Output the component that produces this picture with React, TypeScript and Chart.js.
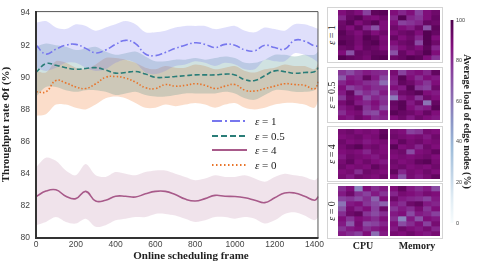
import React, { useEffect, useRef } from "react";
import { Chart, registerables } from "chart.js";
Chart.register(...registerables);

// ---------------- data ----------------
const FRAMES = [0, 50, 100, 150, 200, 250, 300, 350, 400, 450, 500, 550, 600, 650, 700, 750, 800, 850, 900, 950, 1000, 1050, 1100, 1150, 1200, 1250, 1300, 1350, 1400, 1420];
const X_TICKS = [0, 200, 400, 600, 800, 1000, 1200, 1400];
const Y_TICKS = [80, 82, 84, 86, 88, 90, 92, 94];
const CB_TICKS = [0, 20, 40, 60, 80, 100];

const EPS1_MEAN = [92.0, 91.45, 91.75, 92.0, 92.05, 91.8, 91.52, 91.7, 92.05, 92.3, 92.1, 91.45, 91.35, 91.55, 91.8, 92.0, 92.15, 92.05, 91.85, 92.05, 92.0, 91.7, 91.65, 92.0, 91.85, 91.75, 92.3, 92.25, 91.95, 91.95];
const EPS1_UPPER = [93.4, 93.5, 93.1, 93.0, 93.3, 93.2, 92.9, 93.1, 93.3, 93.5, 93.3, 92.8, 92.8, 92.9, 93.1, 93.2, 93.2, 93.2, 93.0, 93.1, 93.2, 92.9, 92.8, 93.1, 93.0, 92.9, 93.3, 93.3, 93.1, 93.0];
const EPS1_LOWER = [90.6, 90.4, 90.6, 90.9, 90.9, 90.6, 90.4, 90.5, 90.9, 91.1, 90.9, 90.3, 90.2, 90.4, 90.7, 90.8, 91.0, 90.9, 90.7, 90.9, 90.8, 90.5, 90.5, 91.1, 91.0, 91.0, 91.5, 91.4, 91.1, 90.9];

const EPS05_MEAN = [90.3, 90.85, 90.75, 90.6, 90.5, 90.55, 90.6, 90.45, 90.26, 90.3, 90.36, 90.2, 90.0, 90.0, 90.05, 90.1, 90.15, 90.15, 90.15, 90.2, 90.15, 89.85, 89.8, 90.1, 90.4, 90.35, 90.25, 90.3, 90.35, 90.6];
const EPS05_UPPER = [91.9, 92.1, 92.0, 91.9, 91.7, 91.8, 91.9, 91.6, 91.4, 91.5, 91.6, 91.3, 91.0, 91.0, 91.1, 91.1, 91.2, 91.1, 91.2, 91.3, 91.2, 90.9, 90.9, 91.1, 91.4, 91.4, 91.3, 91.4, 91.4, 91.6];
const EPS05_LOWER = [88.8, 89.4, 89.4, 89.2, 89.1, 89.2, 89.2, 89.1, 88.9, 89.0, 89.1, 88.9, 88.8, 88.8, 88.9, 89.0, 89.0, 89.0, 89.0, 89.1, 89.0, 88.7, 88.6, 88.9, 89.2, 89.2, 89.1, 89.1, 89.2, 89.5];

const EPS4_MEAN = [82.57, 82.92, 83.0, 82.6, 82.45, 82.9, 82.3, 82.35, 82.6, 82.6, 82.55, 82.75, 82.9, 82.9, 82.7, 82.42, 82.3, 82.45, 82.65, 82.6, 82.58, 82.5, 82.35, 82.2, 82.5, 82.8, 82.8, 82.6, 82.35, 82.57];
const EPS4_UPPER = [84.4, 85.0, 84.8, 84.2, 83.9, 84.6, 83.9, 83.8, 84.1, 84.0, 83.9, 84.1, 84.2, 84.2, 84.0, 83.8, 83.6, 83.7, 83.9, 83.8, 83.8, 83.9, 83.7, 83.5, 83.8, 84.0, 83.9, 83.8, 83.6, 83.8];
const EPS4_LOWER = [80.8, 81.0, 81.3, 81.0, 80.9, 81.2, 80.7, 80.8, 81.1, 81.2, 81.3, 81.3, 81.5, 81.5, 81.4, 81.2, 81.0, 81.1, 81.3, 81.3, 81.2, 81.3, 81.2, 80.9, 81.1, 81.5, 81.6, 81.4, 81.1, 81.3];

const EPS0_MEAN = [89.1, 89.1, 89.8, 89.65, 89.4, 89.3, 89.6, 90.0, 90.05, 89.95, 89.7, 89.35, 89.3, 89.55, 89.45, 89.5, 89.6, 89.5, 89.3, 89.45, 89.55, 89.2, 89.15, 89.3, 89.45, 89.6, 89.55, 89.5, 89.28, 89.75];
const EPS0_UPPER = [90.4, 90.3, 91.0, 90.9, 90.6, 90.5, 90.8, 91.2, 91.2, 91.1, 90.9, 90.6, 90.5, 90.7, 90.6, 90.6, 90.8, 90.7, 90.5, 90.6, 90.7, 90.4, 90.3, 90.5, 90.6, 90.8, 90.7, 90.7, 90.5, 90.9];
const EPS0_LOWER = [87.6, 87.7, 88.3, 88.3, 88.1, 88.0, 88.3, 88.7, 88.8, 88.7, 88.4, 88.1, 88.1, 88.3, 88.2, 88.3, 88.4, 88.3, 88.1, 88.3, 88.4, 88.1, 88.0, 88.1, 88.3, 88.4, 88.4, 88.3, 88.1, 88.6];

const SERIES_LABELS = ["ε = 1", "ε = 0.5", "ε = 4", "ε = 0"];
const PANEL_LABELS = ["ε = 1", "ε = 0.5", "ε = 4", "ε = 0"];
const COLUMN_LABELS = ["CPU", "Memory"];

// heatmaps: 10 rows x 6 columns, values in %
const HEAT_E1_CPU = [
  [88, 92, 88, 75, 96, 97],
  [82, 94, 97, 90, 88, 92],
  [92, 97, 88, 93, 97, 88],
  [93, 88, 95, 82, 70, 88],
  [97, 92, 88, 94, 88, 92],
  [95, 94, 90, 98, 95, 88],
  [98, 95, 90, 96, 98, 90],
  [92, 94, 88, 95, 93, 88],
  [88, 70, 94, 92, 95, 94],
  [98, 95, 93, 90, 97, 98],
];
const HEAT_E1_MEM = [
  [88, 82, 88, 75, 88, 92],
  [82, 98, 82, 78, 88, 94],
  [88, 75, 78, 82, 94, 92],
  [92, 88, 84, 92, 70, 96],
  [88, 92, 94, 88, 98, 94],
  [94, 88, 92, 82, 98, 88],
  [88, 92, 94, 72, 98, 92],
  [82, 88, 92, 88, 96, 82],
  [70, 94, 88, 92, 98, 88],
  [92, 94, 98, 96, 88, 78],
];
const HEAT_E05_CPU = [
  [78, 72, 80, 85, 82, 80],
  [68, 85, 82, 95, 85, 72],
  [82, 88, 85, 80, 78, 62],
  [88, 75, 80, 85, 80, 80],
  [85, 95, 72, 80, 75, 85],
  [78, 92, 88, 72, 82, 78],
  [90, 95, 85, 82, 88, 80],
  [85, 90, 95, 78, 85, 72],
  [80, 88, 90, 75, 72, 85],
  [88, 85, 92, 88, 80, 82],
];
const HEAT_E05_MEM = [
  [90, 75, 85, 88, 82, 95],
  [85, 97, 88, 80, 88, 85],
  [82, 95, 92, 85, 78, 88],
  [88, 85, 97, 78, 75, 92],
  [78, 92, 94, 97, 88, 85],
  [58, 85, 90, 78, 92, 88],
  [94, 97, 85, 92, 60, 94],
  [92, 97, 88, 82, 85, 97],
  [97, 94, 92, 88, 94, 88],
  [88, 92, 85, 92, 88, 85],
];
const HEAT_E4_CPU = [
  [90, 92, 88, 90, 88, 95],
  [88, 90, 92, 88, 90, 97],
  [92, 88, 90, 85, 88, 90],
  [90, 94, 97, 90, 92, 88],
  [88, 90, 88, 82, 90, 88],
  [85, 92, 90, 88, 85, 90],
  [90, 95, 88, 92, 88, 85],
  [92, 88, 90, 88, 95, 90],
  [88, 90, 80, 92, 90, 88],
  [90, 85, 92, 90, 88, 92],
];
const HEAT_E4_MEM = [
  [90, 88, 75, 78, 90, 88],
  [92, 90, 88, 90, 85, 92],
  [88, 95, 90, 92, 88, 90],
  [97, 88, 90, 82, 92, 88],
  [90, 92, 72, 88, 90, 95],
  [88, 90, 88, 90, 92, 88],
  [92, 88, 90, 95, 97, 90],
  [90, 92, 88, 90, 88, 92],
  [95, 82, 90, 88, 92, 88],
  [88, 70, 90, 85, 90, 95],
];
const HEAT_E0_CPU = [
  [80, 88, 55, 88, 80, 85],
  [85, 92, 80, 75, 85, 78],
  [75, 78, 72, 80, 65, 88],
  [60, 85, 88, 78, 72, 65],
  [70, 90, 82, 88, 75, 92],
  [80, 92, 95, 78, 72, 80],
  [88, 78, 88, 85, 80, 88],
  [85, 68, 90, 72, 75, 82],
  [78, 85, 88, 80, 85, 88],
  [85, 80, 75, 88, 62, 85],
];
const HEAT_E0_MEM = [
  [88, 95, 85, 80, 85, 72],
  [82, 90, 88, 85, 90, 88],
  [92, 85, 82, 80, 75, 85],
  [85, 80, 92, 95, 85, 82],
  [78, 85, 80, 90, 78, 88],
  [85, 88, 72, 85, 82, 75],
  [80, 55, 85, 70, 88, 85],
  [88, 72, 80, 88, 75, 90],
  [85, 92, 88, 85, 90, 82],
  [90, 88, 92, 88, 85, 90],
];

// ---------------- styles ----------------
const SERIES = [
  { label: SERIES_LABELS[0], mean: EPS1_MEAN, upper: EPS1_UPPER, lower: EPS1_LOWER, color: "#7777ee", band: "rgba(120,120,240,0.24)", dash: [7, 2.5, 1.6, 2.5], svgDash: "10,3,2,3" },
  { label: SERIES_LABELS[1], mean: EPS05_MEAN, upper: EPS05_UPPER, lower: EPS05_LOWER, color: "#2a7d78", band: "rgba(42,125,120,0.22)", dash: [5, 2.5], svgDash: "6,3" },
  { label: SERIES_LABELS[2], mean: EPS4_MEAN, upper: EPS4_UPPER, lower: EPS4_LOWER, color: "#a85a8a", band: "rgba(168,90,138,0.17)", dash: [], svgDash: "" },
  { label: SERIES_LABELS[3], mean: EPS0_MEAN, upper: EPS0_UPPER, lower: EPS0_LOWER, color: "#e8742a", band: "rgba(240,130,60,0.27)", dash: [1.5, 2], svgDash: "1.5,2.5" },
];

const HEAT_PANELS = [
  [HEAT_E1_CPU, HEAT_E1_MEM],
  [HEAT_E05_CPU, HEAT_E05_MEM],
  [HEAT_E4_CPU, HEAT_E4_MEM],
  [HEAT_E0_CPU, HEAT_E0_MEM],
];
const BOX_TOPS = [7, 66.5, 126, 183];

const BUPU = ["#f7fcfd", "#e0ecf4", "#bfd3e6", "#9ebcda", "#8c96c6", "#8c6bb1", "#88419d", "#810f7c", "#4d004b"];
function hexToRgb(h: string) {
  return [parseInt(h.slice(1, 3), 16), parseInt(h.slice(3, 5), 16), parseInt(h.slice(5, 7), 16)];
}
function bupu(v: number) {
  const t = Math.max(0, Math.min(1, v / 100)) * 8;
  const i = Math.min(7, Math.floor(t));
  const f = t - i;
  const a = hexToRgb(BUPU[i]);
  const b = hexToRgb(BUPU[i + 1]);
  const c = a.map((x, k) => Math.round(x + (b[k] - x) * f));
  return `rgb(${c[0]},${c[1]},${c[2]})`;
}

const SANS = '"Liberation Sans", Arial, sans-serif';
const SERIF = '"Liberation Serif", "Times New Roman", serif';

const framePlugin = {
  id: "frame",
  afterDatasetsDraw(chart: any) {
    const { ctx, chartArea: a } = chart;
    ctx.save();
    ctx.strokeStyle = "#555";
    ctx.lineWidth = 1;
    ctx.beginPath();
    ctx.moveTo(a.left, a.top + 0.5);
    ctx.lineTo(a.right - 0.5, a.top + 0.5);
    ctx.lineTo(a.right - 0.5, a.bottom);
    ctx.stroke();
    ctx.strokeStyle = "#333";
    ctx.lineWidth = 2;
    ctx.beginPath();
    ctx.moveTo(a.left, a.top);
    ctx.lineTo(a.left, a.bottom);
    ctx.lineTo(a.right, a.bottom);
    ctx.stroke();
    ctx.restore();
  },
};

function MainChart() {
  const ref = useRef<HTMLCanvasElement>(null);
  useEffect(() => {
    const pts = (arr: number[]) => FRAMES.map((x, i) => ({ x, y: arr[i] }));
    const lines = SERIES.map((s) => ({
      label: s.label,
      data: pts(s.mean),
      borderColor: s.color,
      borderWidth: 1.6,
      borderDash: s.dash,
      pointRadius: 0,
      fill: false,
      tension: 0.45,
    }));
    const bands: any[] = [];
    SERIES.forEach((s) => {
      bands.push({ label: s.label + " upper", data: pts(s.upper), borderWidth: 0, borderColor: "rgba(0,0,0,0)", backgroundColor: s.band, pointRadius: 0, fill: "+1", tension: 0.3 });
      bands.push({ label: s.label + " lower", data: pts(s.lower), borderWidth: 0, borderColor: "rgba(0,0,0,0)", backgroundColor: "rgba(0,0,0,0)", pointRadius: 0, fill: false, tension: 0.3 });
    });
    const chart = new Chart(ref.current!, {
      type: "line",
      data: { datasets: [...lines, ...bands] as any },
      options: {
        responsive: false,
        animation: false,
        events: [],
        layout: { padding: { top: 8, right: 3, left: 0, bottom: 0 } },
        plugins: { legend: { display: false }, tooltip: { enabled: false } },
        scales: {
          x: {
            type: "linear",
            min: 0,
            max: 1420,
            afterBuildTicks: (s: any) => { s.ticks = X_TICKS.map((v) => ({ value: v })); },
            afterFit: (s: any) => { s.height = 26; },
            grid: { display: false, drawTicks: false },
            border: { display: false },
            ticks: { padding: 2, autoSkip: false, maxRotation: 0, color: "#444", font: { family: SANS, size: 8.5 }, callback: (v: any) => String(v) },
          },
          y: {
            type: "linear",
            min: 80,
            max: 94.12,
            afterBuildTicks: (s: any) => { s.ticks = Y_TICKS.map((v) => ({ value: v })); },
            afterFit: (s: any) => { s.width = 36; },
            grid: { display: false, drawTicks: false },
            border: { display: false },
            ticks: { padding: 6, color: "#444", font: { family: SANS, size: 8.5 }, callback: (v: any) => String(v) },
            title: { display: true, text: "Throughput rate Φf (%)", color: "#222", padding: { top: 0, bottom: 0 }, font: { family: SERIF, size: 11, weight: "bold" } },
          },
        },
      } as any,
      plugins: [framePlugin],
    });
    return () => chart.destroy();
  }, []);
  return <canvas ref={ref} width={326} height={264} style={{ position: "absolute", left: 0, top: 0, width: 326, height: 264 }} />;
}

function Heatmap({ values, left, top }: { values: number[][]; left: number; top: number }) {
  const ref = useRef<HTMLCanvasElement>(null);
  useEffect(() => {
    const cols = values[0].map((_, i) => String(i + 1));
    const chart = new Chart(ref.current!, {
      type: "bar",
      data: {
        labels: cols,
        datasets: values.map((row) => ({
          data: row.map(() => 1),
          backgroundColor: row.map((v) => bupu(v)),
          borderWidth: 0,
          barPercentage: 1,
          categoryPercentage: 1,
          stack: "s",
        })),
      },
      options: {
        responsive: false,
        animation: false,
        events: [],
        layout: { padding: 0 },
        plugins: { legend: { display: false }, tooltip: { enabled: false } },
        scales: {
          x: { display: false, stacked: true },
          y: { display: false, stacked: true, reverse: true, min: 0, max: values.length },
        },
      } as any,
    });
    return () => chart.destroy();
  }, [values]);
  return <canvas ref={ref} width={50} height={50} style={{ position: "absolute", left, top, width: 50, height: 50 }} />;
}

function ColorBar() {
  const ref = useRef<HTMLCanvasElement>(null);
  useEffect(() => {
    const chart = new Chart(ref.current!, {
      type: "bar",
      data: {
        labels: ["load"],
        datasets: [
          {
            data: [[CB_TICKS[0], CB_TICKS[CB_TICKS.length - 1]]],
            backgroundColor: (c: any) => {
              const a = c.chart.chartArea;
              if (!a) return BUPU[8];
              const g = c.chart.ctx.createLinearGradient(0, a.bottom, 0, a.top);
              BUPU.forEach((col, i) => g.addColorStop(i / 8, col));
              return g;
            },
            borderWidth: 0,
            barPercentage: 1,
            categoryPercentage: 1,
          },
        ] as any,
      },
      options: {
        responsive: false,
        animation: false,
        events: [],
        layout: { padding: { top: 20, bottom: 41, left: 2.5, right: 9 } },
        plugins: { legend: { display: false }, tooltip: { enabled: false } },
        scales: {
          x: { display: false },
          y: {
            position: "right",
            min: 0,
            max: 100,
            afterBuildTicks: (s: any) => { s.ticks = CB_TICKS.map((v) => ({ value: v })); },
            afterFit: (s: any) => { s.width = 19.5; },
            grid: { display: false, drawTicks: false },
            border: { display: false },
            ticks: { padding: 2.5, color: "#444", font: { family: SANS, size: 5.5 } },
            title: { display: true, text: "Average load of edge nodes (%)", color: "#222", padding: { top: 0, bottom: 0 }, font: { family: SERIF, size: 10, weight: "bold" } },
          },
        },
      } as any,
    });
    return () => chart.destroy();
  }, []);
  return <canvas ref={ref} width={34} height={264} style={{ position: "absolute", left: 448, top: 0, width: 34, height: 264 }} />;
}

function EpsText({ label }: { label: string }) {
  const rest = label.slice(1);
  return (
    <span>
      <i>{label[0]}</i>
      {rest}
    </span>
  );
}

const LEGEND_Y = [121, 135.5, 150, 164.5];

export default function App() {
  return (
    <div style={{ position: "fixed", left: 0, top: 0, width: 482, height: 264, background: "#fff", overflow: "hidden" }}>
      <MainChart />
      {SERIES.map((s, i) => (
        <div key={s.label} style={{ position: "absolute", left: 212, top: LEGEND_Y[i] - 7, height: 14, display: "flex", alignItems: "center" }}>
          <svg width={35} height={6} style={{ display: "block" }}>
            <line x1={0} y1={3} x2={35} y2={3} stroke={s.color} strokeWidth={1.8} strokeDasharray={s.svgDash || undefined} />
          </svg>
          <span style={{ marginLeft: 8, fontFamily: SERIF, fontSize: 11, color: "#222", whiteSpace: "nowrap", lineHeight: "14px" }}>
            <EpsText label={s.label} />
          </span>
        </div>
      ))}
      <div style={{ position: "absolute", left: 91, width: 200, top: 247.5, textAlign: "center", fontFamily: SERIF, fontWeight: "bold", fontSize: 11, lineHeight: "14px", color: "#222", whiteSpace: "nowrap" }}>
        Online scheduling frame
      </div>
      {HEAT_PANELS.map((pair, r) => (
        <React.Fragment key={r}>
          <div style={{ position: "absolute", left: 327, top: BOX_TOPS[r], width: 116, height: 56, border: "1px solid #d4d4d4", boxSizing: "border-box" }} />
          <div style={{ position: "absolute", left: 332, top: BOX_TOPS[r] + 28, transform: "translate(-50%, -50%) rotate(-90deg)", fontFamily: SERIF, fontSize: 10, color: "#222", whiteSpace: "nowrap", lineHeight: "12px" }}>
            <EpsText label={PANEL_LABELS[r]} />
          </div>
          <Heatmap values={pair[0]} left={338} top={BOX_TOPS[r] + 3} />
          <Heatmap values={pair[1]} left={390} top={BOX_TOPS[r] + 3} />
        </React.Fragment>
      ))}
      {COLUMN_LABELS.map((t, i) => (
        <div key={t} style={{ position: "absolute", left: (i === 0 ? 363 : 417) - 30, width: 60, top: 240, textAlign: "center", fontFamily: SERIF, fontWeight: "bold", fontSize: 10, lineHeight: "12px", color: "#222" }}>
          {t}
        </div>
      ))}
      <ColorBar />
    </div>
  );
}
